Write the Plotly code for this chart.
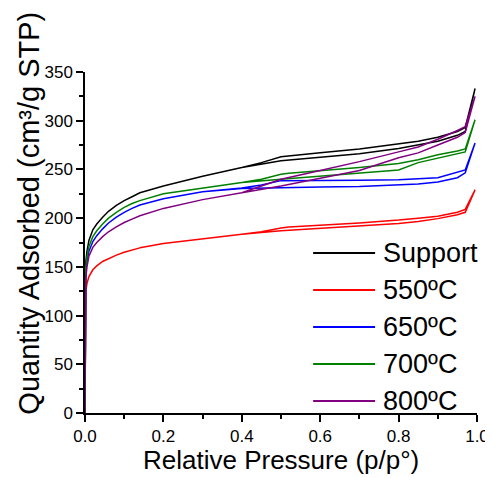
import plotly.graph_objects as go

# N2 isotherms, adsorption branch then desorption branch
p_ads = [0, 0.0005, 0.002, 0.005, 0.01, 0.02, 0.03, 0.045, 0.06, 0.08, 0.1, 0.12, 0.14,
         0.2, 0.3, 0.4, 0.5, 0.6, 0.7, 0.8, 0.85, 0.9, 0.95, 0.97, 0.995]
p_des = [0.995, 0.97, 0.95, 0.9, 0.85, 0.8, 0.7, 0.6, 0.52, 0.5, 0.45, 0.4, 0.3, 0.2, 0.14]

support_ads = [0, 140, 155, 166, 177, 188, 194, 201, 207, 213, 218, 222, 226,
               233, 243, 252, 259, 262.5, 266, 271.5, 275, 279, 285, 289, 333]
support_des = [333, 293, 289, 283, 279, 276.5, 271, 267, 264, 263, 257, 252, 243, 233, 226]

c550_ads = [0, 110, 124, 133, 140, 147, 151, 155.5, 158.5, 162, 165, 167.5, 169.5,
            174, 179, 183.5, 187, 189.5, 191.5, 194.5, 196.5, 199.5, 203.5, 206, 229]
c550_des = [229, 209, 206, 202, 200, 198, 195, 193, 191, 190, 186, 183.5, 179, 174, 169.5]

c650_ads = [0, 130, 145, 156, 166, 176, 182, 189, 195, 201, 206, 210, 213.5,
            220, 227, 230.5, 231.5, 232, 232.5, 234, 235, 237, 241.5, 246.5, 277]
c650_des = [277, 249.5, 247, 241.5, 240.5, 239.5, 239, 239, 239, 238.5, 234, 231, 227, 220, 213.5]

c700_ads = [0, 135, 150, 160, 171, 181, 187, 194, 200, 206, 211, 215, 218,
            225, 231, 236.5, 240, 243, 246, 249.5, 257, 261.5, 265.5, 268, 301]
c700_des = [301, 271, 269, 265, 260, 256, 252, 249, 246, 245, 240, 236.5, 231, 225, 218]

c800_ads = [0, 120, 138, 150, 161, 170, 175, 181, 186, 191, 195.5, 199, 202.5,
            210, 219, 226, 233, 241, 249, 262, 267, 275, 283, 288, 325]
c800_des = [325, 294, 290, 281, 273, 268, 258, 249, 242, 240, 233, 226, 219, 210, 202.5]

labels = ["Support", "550ºC", "650ºC", "700ºC", "800ºC"]
colours = ["black", "#ff0000", "#0000ff", "#008000", "#800080"]
series = [(support_ads, support_des), (c550_ads, c550_des), (c650_ads, c650_des),
          (c700_ads, c700_des), (c800_ads, c800_des)]

font = "Liberation Sans"

fig = go.Figure()
for (ads, des), name, col in zip(series, labels, colours):
    fig.add_trace(go.Scatter(x=p_ads + p_des, y=ads + des, mode="lines", name=name,
                             line=dict(color=col, width=1.5), cliponaxis=False,
                             showlegend=False))

# legend drawn by hand so the sample lines are long like the original
shapes = []
annotations = []
for i, (name, col) in enumerate(zip(labels, colours)):
    yy = 0.469 - i * 0.1085
    shapes.append(dict(type="line", xref="paper", yref="paper", x0=0.582, x1=0.740,
                       y0=yy, y1=yy, line=dict(color=col, width=2)))
    annotations.append(dict(text=name, xref="paper", yref="paper", x=0.755, y=yy,
                            xanchor="left", yanchor="middle", showarrow=False,
                            font=dict(size=27, color="black", family=font)))

# axis titles as annotations (the y one sits off-centre in the original)
annotations.append(dict(text="Quantity Adsorbed (cm³/g STP)", xref="paper", yref="paper",
                        x=-0.145, y=0.585, textangle=-90, xanchor="center", yanchor="middle",
                        showarrow=False, font=dict(size=29, color="black", family=font)))
annotations.append(dict(text="Relative Pressure (p/p°)", xref="paper", yref="paper",
                        x=0.5, y=-0.138, xanchor="center", yanchor="middle",
                        showarrow=False, font=dict(size=26, color="black", family=font)))

axis_style = dict(showline=True, linecolor="black", linewidth=1.5, ticks="outside",
                  ticklen=7, tickwidth=1.5, tickcolor="black", showgrid=False,
                  zeroline=False, layer="below traces", automargin=False,
                  tickfont=dict(size=17, color="black", family=font))

# the page adds an 8px body margin, so the figure is 8px smaller each way
fig.update_layout(
    width=485, height=470,
    margin=dict(l=77, r=16, t=64, b=65),
    plot_bgcolor="white", paper_bgcolor="white",
    xaxis=dict(range=[0, 1], dtick=0.2, tickformat=".1f",
               minor=dict(dtick=0.1, ticks="outside", ticklen=4, tickcolor="black", tickwidth=1.5),
               **axis_style),
    yaxis=dict(range=[0, 350], dtick=50,
               minor=dict(dtick=25, ticks="outside", ticklen=4, tickcolor="black", tickwidth=1.5),
               **axis_style),
    shapes=shapes,
    annotations=annotations,
)

fig.write_html("out.html")
